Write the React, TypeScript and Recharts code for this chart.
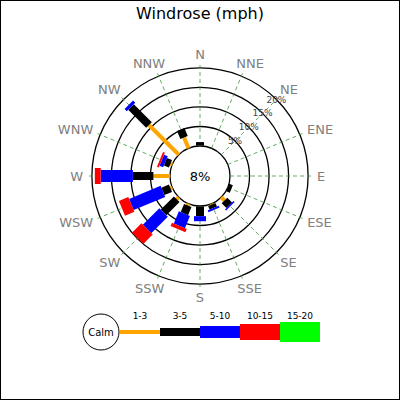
import React from 'react';
import { RadialBarChart, RadialBar, PolarGrid, PolarAngleAxis, PolarRadiusAxis, Legend } from 'recharts';

// wind directions, clockwise from north
const directions = ['N', 'NNE', 'NE', 'ENE', 'E', 'ESE', 'SE', 'SSE', 'S', 'SSW', 'SW', 'WSW', 'W', 'WNW', 'NW', 'NNW'];

// frequency (%) per speed bin (mph)
const speed1to3 = [0.1, 0, 0, 0, 0, 0, 1.2, 0.2, 0.1, 0.5, 0.75, 0.5, 4.25, 0.5, 10.8, 3.0];
const speed3to5 = [0.9, 0, 0, 0, 0, 1.0, 1.7, 1.0, 2.5, 2.25, 4.75, 2.1, 5.25, 1.4, 6.5, 2.2];
const speed5to10 = [0, 0, 0, 0, 0, 0, 0.4, 0.5, 1.3, 3.4, 6.0, 8.75, 8.25, 1.0, 0.8, 0];
const speed10to15 = [0, 0, 0, 0, 0, 0, 0, 0, 0, 0.9, 3.4, 2.6, 1.5, 0.5, 0, 0];
const speed15to20 = [0, 0, 0, 0, 0, 0, 0, 0, 0, 0, 0, 0, 0, 0, 0, 0];

const binLabels = ['1-3', '3-5', '5-10', '10-15', '15-20'];
const binColors = ['#ffa500', '#000000', '#0000ff', '#ff0000', '#00ff00'];
const binWidths = [4, 8, 12, 16, 20];
const binKeys = ['b0', 'b1', 'b2', 'b3', 'b4'];
const calmPct = 8;
const radiusTicks = [0, 5, 10, 15, 20];

const FONT = '"DejaVu Sans", sans-serif';
const RAD = Math.PI / 180;
const step = 360 / directions.length;
const dirDegrees = directions.map((_, i) => i * step);

const data = directions.map((dir, i) => ({
  dir,
  deg: dirDegrees[i],
  b0: speed1to3[i],
  b1: speed3to5[i],
  b2: speed5to10[i],
  b3: speed10to15[i],
  b4: speed15to20[i],
}));

// bar drawn as a straight strip of fixed pixel width along the sector's middle angle
const makeBarShape = (w: number) => (props: any) => {
  const { cx, cy, innerRadius, outerRadius, startAngle, endAngle, fill } = props;
  if (!(outerRadius - innerRadius > 0.01)) return <g />;
  const mid = (startAngle + endAngle) / 2;
  const ux = Math.cos(-mid * RAD);
  const uy = Math.sin(-mid * RAD);
  const px = -uy * w / 2;
  const py = ux * w / 2;
  const p = (r: number, s: number) => `${cx + ux * r + s * px},${cy + uy * r + s * py}`;
  return (
    <polygon
      points={[p(innerRadius, 1), p(outerRadius, 1), p(outerRadius, -1), p(innerRadius, -1)].join(' ')}
      fill={fill}
    />
  );
};

const dirName = (deg: number) => directions[Math.round(deg / step) % directions.length];

// rough DejaVu Sans advance widths (em) for the compass letters
const charEm: Record<string, number> = { N: 0.748, E: 0.632, S: 0.635, W: 0.989 };
const DIR_FONT = 13;

// label box sits just outside the tick point, like matplotlib's polar labels
const DirTick = (props: any) => {
  const name = dirName(props.payload.value);
  const ang = props.payload.coordinate;
  const ux = Math.cos(-ang * RAD);
  const uy = Math.sin(-ang * RAD);
  const w = name.split('').reduce((s, c) => s + (charEm[c] || 0.7), 0) * DIR_FONT;
  const h = DIR_FONT * 0.73;
  return (
    <text
      x={props.x + (ux * w) / 2}
      y={props.y + (uy * h) / 2}
      textAnchor="middle"
      dominantBaseline="central"
      fill="#808080"
      fontSize={DIR_FONT}
      fontFamily={FONT}
    >
      {name}
    </text>
  );
};

const RadiusTick = (props: any) => {
  if (props.payload.value === 0) return <g />;
  return (
    <text
      x={props.x}
      y={props.y}
      textAnchor="middle"
      dominantBaseline="central"
      fill="#444"
      fontSize={9}
      fontFamily={FONT}
    >
      {`${props.payload.value}%`}
    </text>
  );
};

const LegendView = () => {
  const cy = 27;
  const start = 120;
  const len = 40;
  return (
    <svg width={400} height={50} style={{ display: 'block' }}>
      <circle cx={101} cy={cy} r={18} fill="#fff" stroke="#000" strokeWidth={1} />
      <text x={101} y={cy} textAnchor="middle" dominantBaseline="central" fontSize={10} fontFamily={FONT}>
        Calm
      </text>
      {binLabels.map((lab, i) => (
        <g key={lab}>
          <rect
            x={start + i * len}
            y={cy - binWidths[i] / 2}
            width={len}
            height={binWidths[i]}
            fill={binColors[i]}
          />
          <text x={start + i * len + len / 2} y={13.5} textAnchor="middle" fontSize={9} fontFamily={FONT}>
            {lab}
          </text>
        </g>
      ))}
    </svg>
  );
};

export default function App() {
  return (
    <div style={{ position: 'absolute', left: 0, top: 0, width: 400, height: 400, background: '#fff', fontFamily: FONT }}>
      <div
        style={{
          position: 'absolute',
          left: 0,
          top: 4,
          width: 400,
          textAlign: 'center',
          fontSize: 16,
          lineHeight: '19px',
          color: '#000',
        }}
      >
        Windrose (mph)
      </div>
      <div style={{ position: 'absolute', left: 0, top: 0 }}>
        <RadialBarChart
          width={400}
          height={400}
          data={data}
          layout="centric"
          cx={200}
          cy={176}
          innerRadius={30}
          outerRadius={112}
          startAngle={90}
          endAngle={-270}
          margin={{ top: 0, right: 0, bottom: 0, left: 0 }}
        >
          <PolarGrid gridType="circle" radialLines={false} stroke="#000" strokeWidth={1.3} />
          <PolarGrid gridType="circle" polarRadius={[]} stroke="#3f943f" strokeWidth={0.8} strokeDasharray="4 3" />
          <PolarAngleAxis
            dataKey="deg"
            type="number"
            domain={[0, 360]}
            ticks={dirDegrees}
            tick={DirTick}
            tickLine={false}
            axisLine={false}
            tickSize={5}
          />
          <PolarRadiusAxis
            type="number"
            angle={45}
            domain={[0, 20.5]}
            ticks={radiusTicks}
            axisLine={false}
            tick={RadiusTick}
            label={{ value: `${calmPct}%`, position: 'center', fontSize: 13, fill: '#000', fontFamily: FONT }}
          />
          {binKeys.map((k, i) => (
            <RadialBar
              key={k}
              dataKey={k}
              stackId="wind"
              fill={binColors[i]}
              shape={makeBarShape(binWidths[i])}
              isAnimationActive={false}
            />
          ))}
          <Legend
            content={() => <LegendView />}
            wrapperStyle={{ position: 'absolute', left: 0, top: 305, width: 400, height: 50 }}
          />
        </RadialBarChart>
      </div>
      <div
        style={{
          position: 'absolute',
          left: 0,
          top: 0,
          width: 400,
          height: 400,
          boxSizing: 'border-box',
          border: '1px solid #000',
          pointerEvents: 'none',
        }}
      />
    </div>
  );
}
